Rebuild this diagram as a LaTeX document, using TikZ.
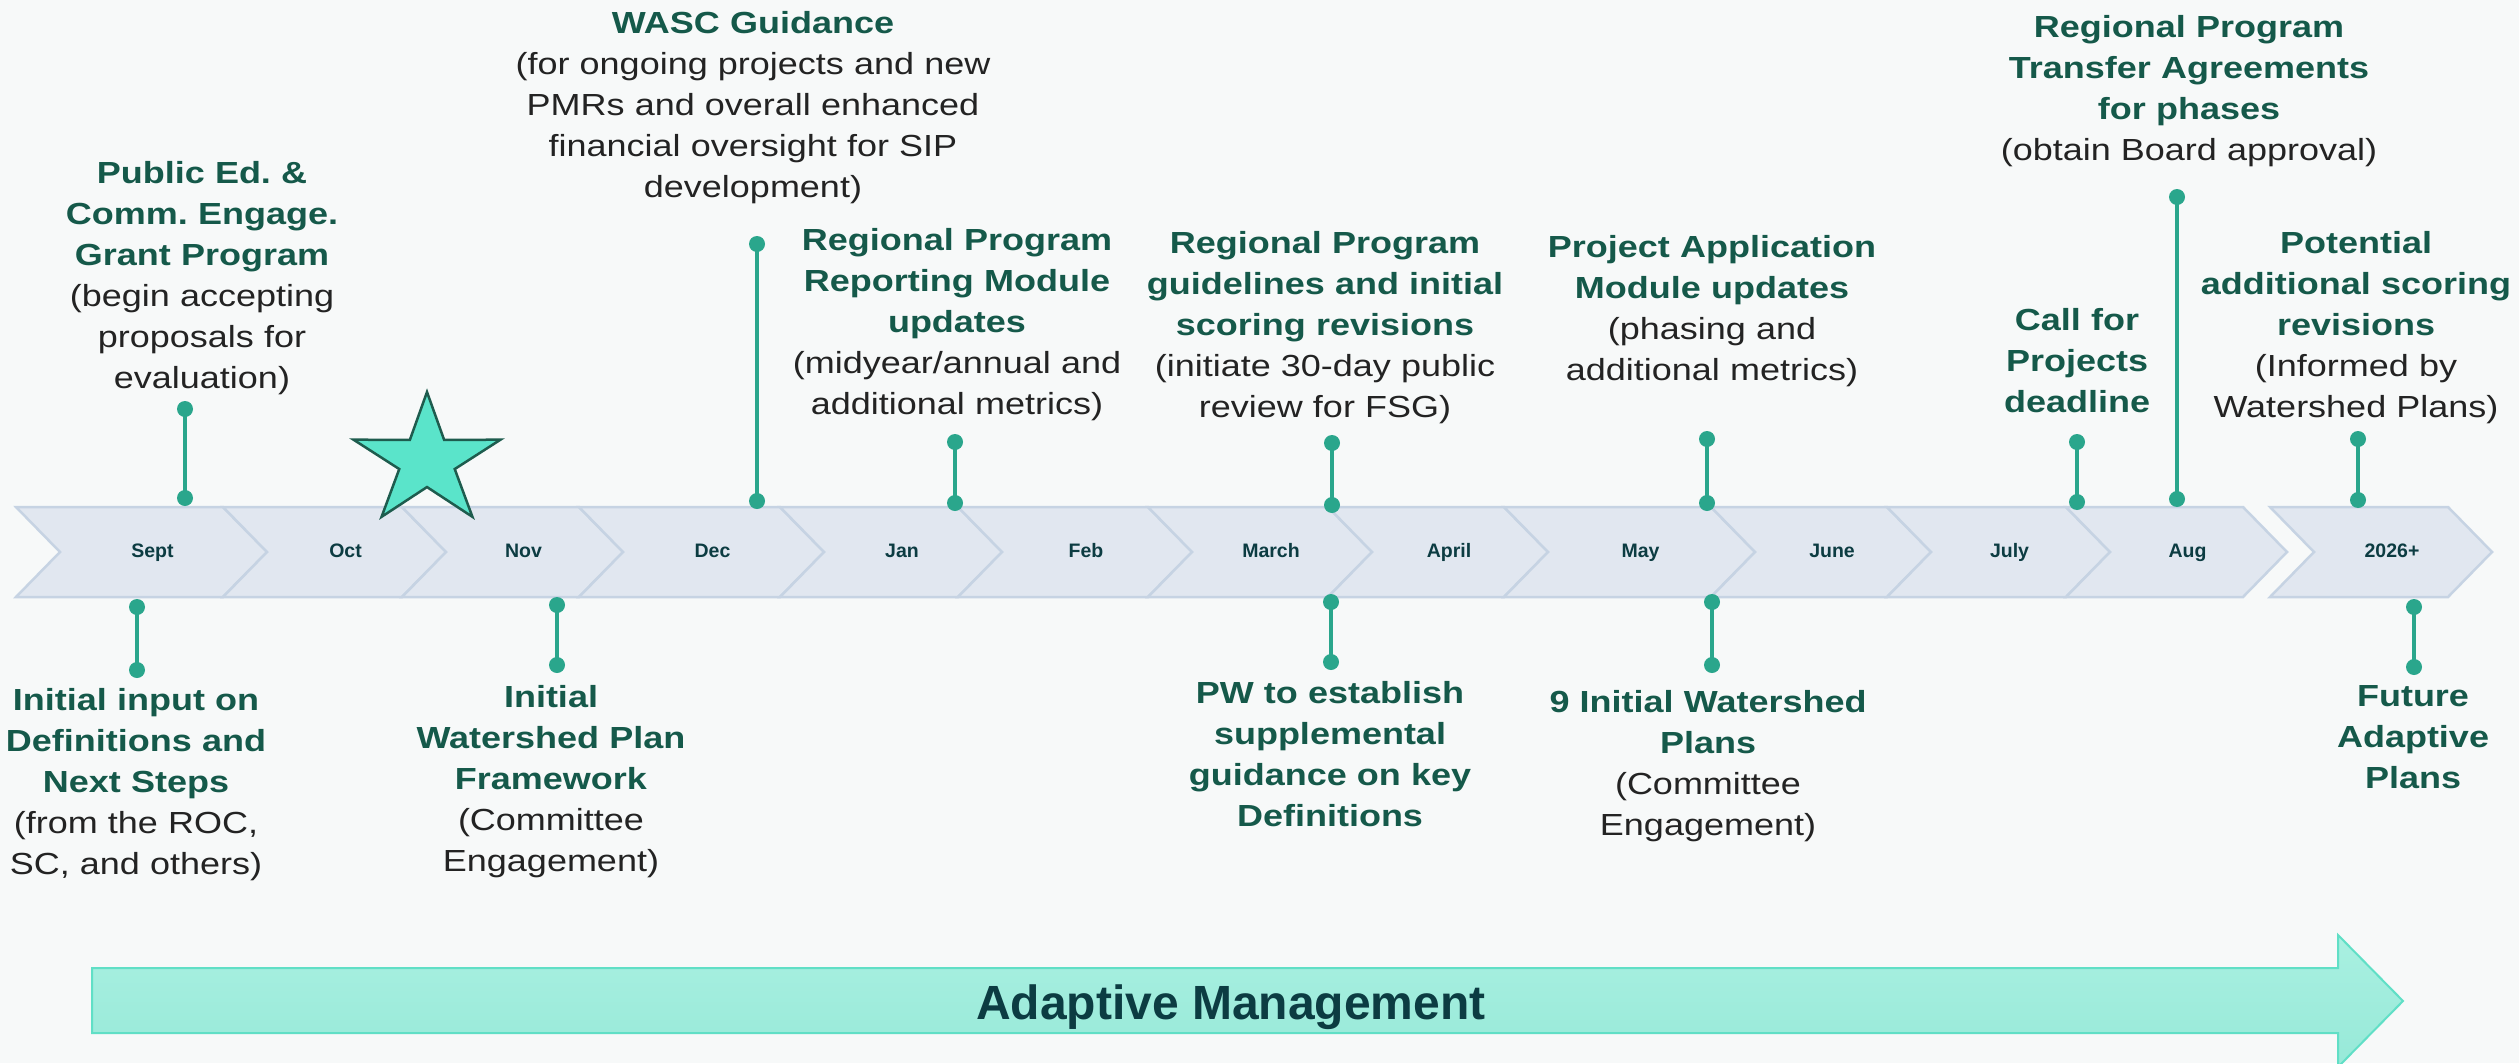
\documentclass[tikz,border=0pt]{standalone}
\usepackage{fontspec}
\setmainfont{Liberation Sans}
\newfontfamily\notefont[FakeStretch=1.18]{Liberation Sans}
\usetikzlibrary{shapes.geometric}
\frenchspacing

\definecolor{bgcol}{HTML}{F7F9F9}
\definecolor{chevfill}{HTML}{E1E7F0}
\definecolor{chevline}{HTML}{C6D3E3}
\definecolor{monthcol}{HTML}{0C3C42}
\definecolor{headcol}{HTML}{15594A}
\definecolor{bodycol}{HTML}{232323}
\definecolor{pincol}{HTML}{2AA68C}
\definecolor{starfill}{HTML}{5AE4CA}
\definecolor{starline}{HTML}{1E5C4E}
\definecolor{arrowtop}{HTML}{A9F0E1}
\definecolor{arrowbot}{HTML}{97E9D8}
\definecolor{arrowline}{HTML}{60DFC6}

\newcommand{\hd}[1]{{\color{headcol}\bfseries #1}}

\begin{document}
\begin{tikzpicture}[x=1pt,y=-1pt,
  chev/.style={fill=chevfill,draw=chevline,line width=2.5pt},
  month/.style={font=\fontsize{19.5}{23}\selectfont\bfseries,text=monthcol,anchor=base,inner sep=0pt},
  note/.style={font=\notefont\fontsize{30.5}{41}\selectfont,text=bodycol,align=center,text width=620pt,anchor=north,inner sep=0pt},
  pin/.style={draw=pincol,line width=4.7pt},
  dot/.style={fill=pincol},
  adaptarrow/.style={top color=arrowtop,bottom color=arrowbot,draw=arrowline,line width=2pt}]
% The background
\path[use as bounding box,fill=bgcol] (0,0) rectangle (2519,1063);
\clip (0,0) rectangle (2519,1063);

% The chevrons and the months
\foreach \b/\c/\n/\m in {16/223/sept/Sept, 223/402/oct/Oct, 402/579/nov/Nov,
  579/780/dec/Dec, 780/958/jan/Jan, 958/1148/feb/Feb, 1148/1328/mar/March,
  1328/1504/apr/April, 1504/1711/may/May, 1711/1887/jun/June,
  1887/2066/jul/July, 2066/2243/aug/Aug, 2270/2448/later/2026+}
{
  \draw[chev] (\b,507) -- (\c,507) -- ({\c+44},552) -- (\c,597) -- (\b,597) -- ({\b+44},552) -- cycle;
  \node[month] (m-\n) at ({(\b+\c)/2+33},557) {\m};
}

% The star
\node[star,star points=5,star point ratio=2.65,minimum size=138pt,xscale=1.12,
  fill=starfill,draw=starline,line width=2.5pt,inner sep=0pt] (star) at (427,461) {};

% The pins
\foreach \n/\x/\ya/\yb in {pubed/185/409/498, wasc/757/244/501, rpreport/955/442/503,
  rpguide/1332/443/505, projapp/1707/439/503, callproj/2077/442/502,
  transfer/2177/197/499, scoring/2358/439/500, initinput/137/607/670,
  wsframe/557/605/665, pwdef/1331/602/662, wsplans/1712/602/665, future/2414/607/667}
{
  \coordinate (\n-a) at (\x,\ya);
  \coordinate (\n-b) at (\x,\yb);
  \draw[pin] (\n-a) -- (\n-b);
  \fill[dot] (\n-a) circle (8) (\n-b) circle (8);
}

% Notes above the band
\node[note] (pubed) at (202,161) {\hd{Public Ed. \&\\ Comm. Engage.\\ Grant Program}\\ (begin accepting\\ proposals for\\ evaluation)};
\node[note] (wasc) at (753,11) {\hd{WASC Guidance}\\ (for ongoing projects and new\\ PMRs and overall enhanced\\ financial oversight for SIP\\ development)};
\node[note] (rpreport) at (957,228) {\hd{Regional Program\\ Reporting Module\\ updates}\\ (midyear/annual and\\ additional metrics)};
\node[note] (rpguide) at (1325,231) {\hd{Regional Program\\ guidelines and initial\\ scoring revisions}\\ (initiate 30-day public\\ review for FSG)};
\node[note] (projapp) at (1712,235) {\hd{Project Application\\ Module updates}\\ (phasing and\\ additional metrics)};
\node[note] (callproj) at (2077,308) {\hd{Call for\\ Projects\\ deadline}};
\node[note] (transfer) at (2189,15) {\hd{Regional Program\\ Transfer Agreements\\ for phases}\\ (obtain Board approval)};
\node[note] (scoring) at (2356,231) {\hd{Potential\\ additional scoring\\ revisions}\\ (Informed by\\ Watershed Plans)};

% Notes below the band
\node[note] (initinput) at (136,688) {\hd{Initial input on\\ Definitions and\\ Next Steps}\\ (from the ROC,\\ SC, and others)};
\node[note] (wsframe) at (551,685) {\hd{Initial\\ Watershed Plan\\ Framework}\\ (Committee\\ Engagement)};
\node[note] (pwdef) at (1330,681) {\hd{PW to establish\\ supplemental\\ guidance on key\\ Definitions}};
\node[note] (wsplans) at (1708,690) {\hd{9 Initial Watershed\\ Plans}\\ (Committee\\ Engagement)};
\node[note] (future) at (2413,685) {\hd{Future\\ Adaptive\\ Plans}};

% Adaptive management arrow
\draw[adaptarrow] (92,968) -- (2338,968) -- (2338,935) -- (2403,1001) -- (2338,1067) -- (2338,1033) -- (92,1033) -- cycle;
\node[font=\fontsize{48}{56}\selectfont\bfseries,text=monthcol,anchor=base,inner sep=0pt] (adapt) at (1231,1019) {Adaptive Management};
\end{tikzpicture}
\end{document}
